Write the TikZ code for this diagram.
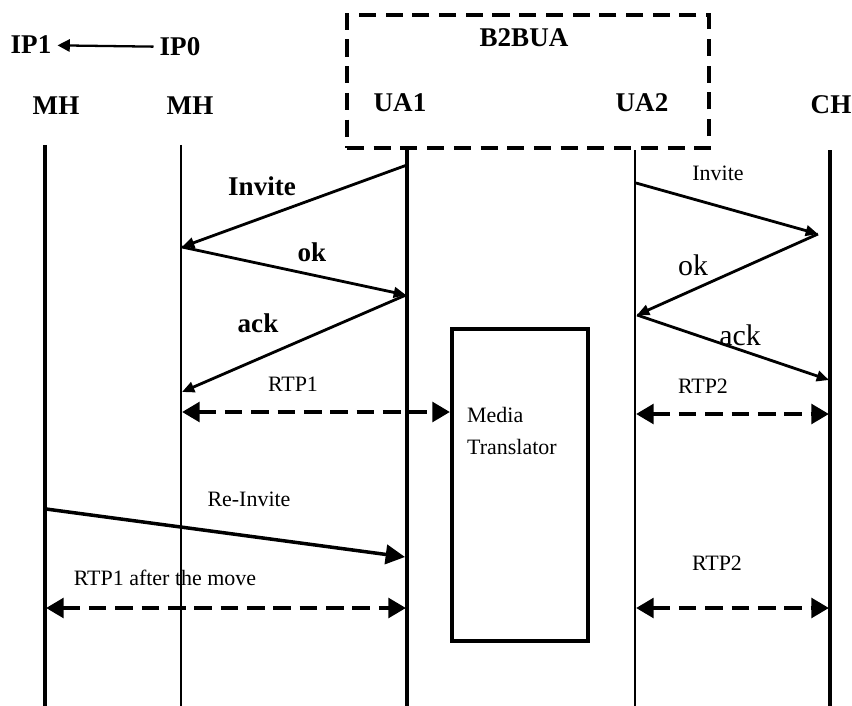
\documentclass[tikz,border=0pt]{standalone}
\usepackage{fontspec}
\setmainfont{Liberation Serif}
\usetikzlibrary{arrows.meta}

\begin{document}
\begin{tikzpicture}[
      x=0.02cm, y=-0.02cm,
      thickline/.style={draw, line width=1.9pt},
      thinline/.style={draw, line width=1pt},
      msg/.style={draw, -{Triangle[length=7pt, width=6pt]}, line width=1.6pt},
      bigmsg/.style={draw, -{Triangle[length=11pt, width=11pt]}, line width=2pt},
      rtp/.style={draw, {Triangle[length=10pt, width=11pt]}-{Triangle[length=10pt, width=11pt]},
        line width=2.4pt, dash pattern=on 10pt off 5pt},
      groupbox/.style={draw, line width=2.8pt, dash pattern=on 9.7pt off 5.5pt,
        minimum width=7.24cm, minimum height=2.66cm},
      mediabox/.style={draw, line width=2pt, minimum width=2.72cm, minimum height=6.24cm},
      boldlabel/.style={font=\fontsize{15.4}{18}\selectfont\bfseries},
      smalllabel/.style={font=\fontsize{12.5}{15}\selectfont},
      biglabel/.style={font=\fontsize{17}{20}\selectfont}
    ]
      \useasboundingbox (0,0) rectangle (852,706);

      % address change
      \node[boldlabel] (ip1) at (31,45) {IP1};
      \node[boldlabel] (ip0) at (180,47) {IP0};
      \draw[draw, -{Triangle[length=7pt, width=7pt]}, line width=1.3pt] (ip0) -- (ip1);

      % B2BUA box
      \node[groupbox] (b2bua) at (528,81.5) {};
      \node[boldlabel] (b2buatext) at (524,38) {B2BUA};

      % entity names
      \node[boldlabel] (mhold) at (56,106) {MH};
      \node[boldlabel] (mhnew) at (190,106) {MH};
      \node[boldlabel] (ua1) at (400,103) {UA1};
      \node[boldlabel] (ua2) at (642,103) {UA2};
      \node[boldlabel] (ch) at (831,105) {CH};

      % lifelines
      \foreach \name/\x/\top in {mha/45/145, mhb/181/145, uaa/407/148, uab/635/150, cha/830/150} {
        \coordinate (\name top) at (\x,\top);
        \coordinate (\name bot) at (\x,706);
      }
      \draw[thickline] (mhatop) -- (mhabot);
      \draw[thinline] (mhbtop) -- (mhbbot);
      \draw[thickline] (uaatop) -- (uaabot);
      \draw[thinline] (uabtop) -- (uabbot);
      \draw[thickline] (chatop) -- (chabot);

      % media translator
      \node[mediabox] (mt) at (520,485) {};
      \node[smalllabel, anchor=west] (media) at (461,415) {Media};
      \node[smalllabel, anchor=west] (translator) at (461,447) {Translator};

      % left signalling
      \coordinate (l1) at (407,165);
      \coordinate (l2) at (182,247);
      \coordinate (l3) at (406,295);
      \coordinate (l4) at (182,392);
      \draw[msg] (l1) -- (l2);
      \draw[msg] (l2) -- (l3);
      \draw[msg] (l3) -- (l4);
      \node[boldlabel] (invl) at (262,186) {Invite};
      \node[boldlabel] (okl) at (312,252) {ok};
      \node[boldlabel] (ackl) at (258,323) {ack};

      % right signalling
      \coordinate (r1) at (636,183);
      \coordinate (r2) at (818,234);
      \coordinate (r3) at (637,315);
      \coordinate (r4) at (829,380);
      \draw[msg] (r1) -- (r2);
      \draw[msg] (r2) -- (r3);
      \draw[msg] (r3) -- (r4);
      \node[smalllabel] (invr) at (718,173) {Invite};
      \node[biglabel] (okr) at (693,265) {ok};
      \node[biglabel] (ackr) at (740,335) {ack};

      % media streams
      \coordinate (rtp1a) at (182,412);
      \coordinate (rtp1b) at (450,412);
      \coordinate (rtp2a) at (636,414);
      \coordinate (rtp2b) at (829,414);
      \draw[rtp] (rtp1a) -- (rtp1b);
      \draw[rtp] (rtp2a) -- (rtp2b);
      \node[smalllabel] (rtp1) at (293,384) {RTP1};
      \node[smalllabel] (rtp2) at (703,386) {RTP2};

      % after the move
      \coordinate (m1) at (46,509);
      \coordinate (m2) at (405,557);
      \draw[bigmsg] (m1) -- (m2);
      \node[smalllabel] (reinv) at (249,499) {Re-Invite};
      \coordinate (m3) at (46,608);
      \coordinate (m4) at (406,608);
      \coordinate (m5) at (636,608);
      \coordinate (m6) at (829,608);
      \draw[rtp] (m3) -- (m4);
      \draw[rtp] (m5) -- (m6);
      \node[smalllabel] (rtp1new) at (165,578) {RTP1 after the move};
      \node[smalllabel] (rtp2new) at (717,563) {RTP2};
    \end{tikzpicture}
\end{document}
